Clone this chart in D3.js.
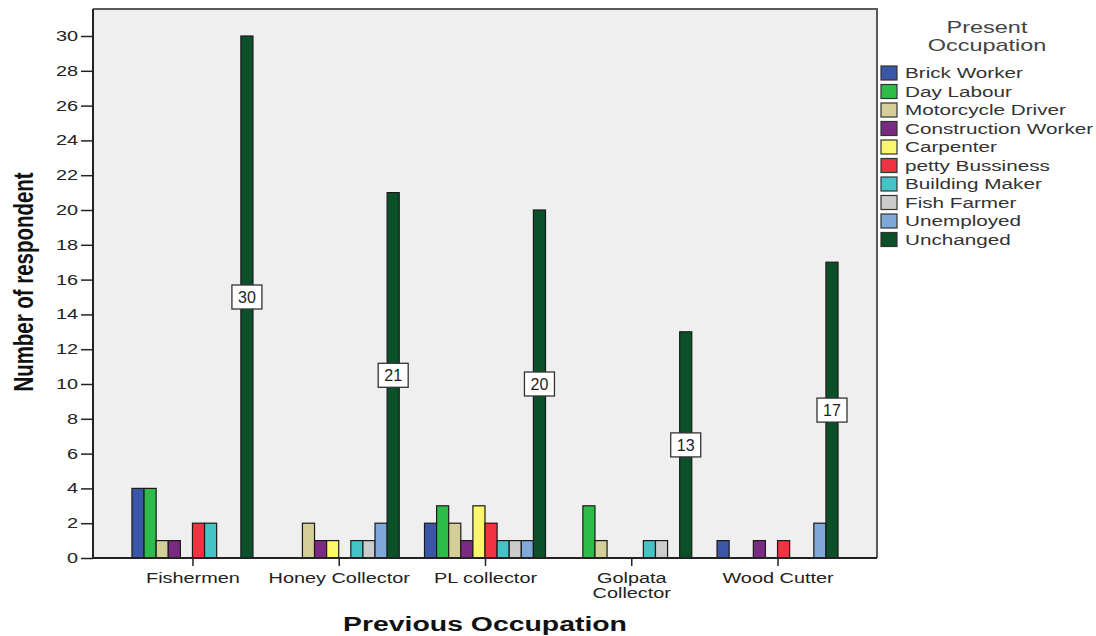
<!DOCTYPE html>
<html>
<head>
<meta charset="utf-8">
<script src="https://cdn.jsdelivr.net/npm/d3@7"></script>
<style>
  body { margin: 0; background: #fff; }
  svg { display: block; font-family: "Liberation Sans", Arial, sans-serif; }
</style>
</head>
<body>
<svg id="chart" width="1096" height="636"></svg>
<script>
// Previous occupation groups on the x axis
const categories = ["Fishermen", "Honey Collector", "PL collector", "Golpata Collector", "Wood Cutter"];
const categoryLines = [["Fishermen"], ["Honey Collector"], ["PL collector"], ["Golpata", "Collector"], ["Wood Cutter"]];

// Present occupation series (legend order)
const series = ["Brick Worker", "Day Labour", "Motorcycle Driver", "Construction Worker", "Carpenter",
                "petty Bussiness", "Building Maker", "Fish Farmer", "Unemployed", "Unchanged"];
const colors = ["#3a56a6", "#2fbb4a", "#d4cf98", "#7b2a84", "#fbf66c",
                "#ef3340", "#45c3c6", "#cccccc", "#7ea9d9", "#0b5029"];

// Counts per series, one value per previous-occupation group
const brickWorker        = [4, 0, 2, 0, 1];
const dayLabour          = [4, 0, 3, 3, 0];
const motorcycleDriver   = [1, 2, 2, 1, 0];
const constructionWorker = [1, 1, 1, 0, 1];
const carpenter          = [0, 1, 3, 0, 0];
const pettyBusiness      = [2, 0, 2, 0, 1];
const buildingMaker      = [2, 1, 1, 1, 0];
const fishFarmer         = [0, 1, 1, 1, 0];
const unemployed         = [0, 2, 1, 0, 2];
const unchanged          = [30, 21, 20, 13, 17];

const yTicks = d3.range(0, 31, 2);

const values = [brickWorker, dayLabour, motorcycleDriver, constructionWorker, carpenter,
                pettyBusiness, buildingMaker, fishFarmer, unemployed, unchanged];

// Wide lettering: glyphs are stretched horizontally
const SX = 1.42;

const svg = d3.select("#chart");
const plot = { left: 93, top: 9, right: 877, bottom: 558 };

const x = d3.scalePoint().domain(categories).range([plot.left, plot.right]).padding(0.68);
const groupWidth = 121;
const xInner = d3.scaleBand().domain(series).range([-groupWidth / 2, groupWidth / 2]);
const y = d3.scaleLinear().domain([0, 30]).range([plot.bottom, 36]);

// Plot background and frame
svg.append("rect")
  .attr("x", plot.left).attr("y", plot.top)
  .attr("width", plot.right - plot.left).attr("height", plot.bottom - plot.top)
  .attr("fill", "#efefef");
svg.append("path")
  .attr("d", `M${plot.left},${plot.top}H${plot.right}V${plot.bottom}`)
  .attr("fill", "none").attr("stroke", "#5a5a5a").attr("stroke-width", 2);

// Bars
const barData = [];
categories.forEach((c, ci) => {
  series.forEach((s, si) => {
    const v = values[si][ci];
    if (v > 0) barData.push({ c, s, si, v });
  });
});

svg.append("g").selectAll("rect").data(barData).join("rect")
  .attr("x", d => x(d.c) + xInner(d.s))
  .attr("y", d => y(d.v))
  .attr("width", xInner.bandwidth())
  .attr("height", d => y(0) - y(d.v))
  .attr("fill", d => colors[d.si])
  .attr("stroke", "#1a1a1a").attr("stroke-width", 1.2);

// Value labels on the Unchanged bars
const labelData = barData.filter(d => d.s === "Unchanged");
const lbl = svg.append("g").selectAll("g").data(labelData).join("g")
  .attr("transform", d => `translate(${x(d.c) + xInner(d.s) + xInner.bandwidth() / 2},${y(d.v / 2)})`);
lbl.append("rect")
  .attr("x", -15).attr("y", -12).attr("width", 30).attr("height", 24)
  .attr("fill", "#fff").attr("stroke", "#333").attr("stroke-width", 1.3);
lbl.append("text")
  .attr("text-anchor", "middle").attr("dy", "0.36em")
  .attr("font-size", 16).attr("fill", "#222")
  .text(d => d.v);

// Y axis
const yAxis = svg.append("g")
  .attr("transform", `translate(${plot.left},0)`)
  .call(d3.axisLeft(y).tickValues(yTicks).tickSize(12));
yAxis.select(".domain").attr("d", `M0,${plot.top}V${plot.bottom}`).attr("stroke", "#222").attr("stroke-width", 2);
yAxis.selectAll(".tick line").attr("stroke", "#222").attr("stroke-width", 1.5);
yAxis.selectAll(".tick text")
  .attr("x", -15 / SX)
  .attr("transform", `scale(${SX},1)`)
  .attr("font-size", 14).attr("fill", "#222")
  .attr("font-family", "'Liberation Sans', Arial, sans-serif");

// X axis
const xAxis = svg.append("g")
  .attr("transform", `translate(0,${plot.bottom})`)
  .call(d3.axisBottom(x).tickSize(8).tickFormat(""));
xAxis.select(".domain").attr("d", `M${plot.left},0H${plot.right}`).attr("stroke", "#222").attr("stroke-width", 2);
xAxis.selectAll(".tick line").attr("stroke", "#222").attr("stroke-width", 1.5);
xAxis.selectAll(".tick").each(function (d, i) {
  const t = d3.select(this).append("text")
    .attr("transform", `scale(${SX},1)`)
    .attr("text-anchor", "middle").attr("font-size", 14).attr("fill", "#222")
    .attr("font-family", "'Liberation Sans', Arial, sans-serif");
  categoryLines[i].forEach((line, li) => {
    t.append("tspan").attr("x", 0).attr("y", 25 + li * 15).text(line);
  });
});

// Axis titles
svg.append("text")
  .attr("transform", "translate(33,282) rotate(-90) scale(0.73,1)")
  .attr("text-anchor", "middle")
  .attr("font-weight", "bold").attr("font-size", 28).attr("fill", "#111")
  .text("Number of respondent");
svg.append("text")
  .attr("transform", `translate(485,631) scale(${SX},1)`)
  .attr("text-anchor", "middle")
  .attr("font-weight", "bold").attr("font-size", 20).attr("fill", "#111")
  .text("Previous Occupation");

// Legend
const legend = svg.append("g");
legend.append("g")
  .attr("transform", `translate(987,0) scale(1.38,1)`)
  .append("text")
  .attr("text-anchor", "middle")
  .attr("font-size", 17).attr("fill", "#444")
  .selectAll("tspan").data(["Present", "Occupation"]).join("tspan")
  .attr("x", 0).attr("y", (d, i) => 33 + i * 18).text(d => d);

const li = legend.selectAll("g.item").data(series).join("g")
  .attr("class", "item")
  .attr("transform", (d, i) => `translate(881,${73 + i * 18.5})`);
li.append("rect")
  .attr("x", 0).attr("y", -7).attr("width", 16).attr("height", 14)
  .attr("fill", (d, i) => colors[i]).attr("stroke", "#333").attr("stroke-width", 1.2);
li.append("text")
  .attr("transform", "translate(24,0) scale(1.38,1)")
  .attr("dy", "0.36em")
  .attr("font-size", 15).attr("fill", "#333")
  .text(d => d);
</script>
</body>
</html>
